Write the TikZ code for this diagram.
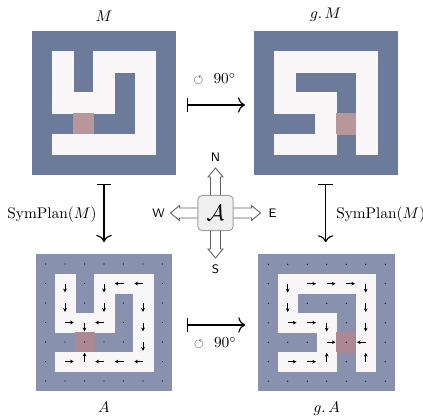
\documentclass[tikz,border=0pt]{standalone}
\usepackage{amsmath,amssymb}
\usepackage{tikz}
\usetikzlibrary{arrows.meta,positioning}

\definecolor{wallM}{HTML}{6D7B9B}
\definecolor{wallA}{HTML}{8891AD}
\definecolor{goalM}{HTML}{B79799}
\definecolor{goalA}{HTML}{AB8893}
\definecolor{mazefree}{HTML}{F8F6F6}

\tikzset{
  gridbox/.style  = {rectangle, inner sep=0pt, outer sep=0pt},
  maplbl/.style   = {inner sep=0pt},
  maparrow/.style = {{Bar[width=9.5pt]}-{Computer Modern Rightarrow[length=4.5pt,width=10pt]},
                     line width=0.75pt},
  policy/.style   = {-{Stealth[length=2.4pt,width=2.4pt]}, line width=0.4pt},
  agent/.style    = {draw=gray!75, fill=gray!12, rounded corners=3pt,
                     minimum size=23pt, line width=0.6pt},
  move/.style     = {draw=gray!75!black, fill=white, line width=0.55pt},
  dirlbl/.style   = {font=\footnotesize\sffamily, inner sep=0pt}
}

% w = wall, g = goal, d/u/l/r = policy direction
\def\planA{{w,w,w,w,w,w,w},{w,d,w,d,l,l,w},{w,d,w,d,w,d,w},{w,r,d,l,w,d,w},%
{w,w,g,w,w,d,w},{w,r,u,l,l,l,w},{w,w,w,w,w,w,w}}
\def\planGA{{w,w,w,w,w,w,w},{w,d,r,r,r,d,w},{w,d,w,w,w,d,w},{w,r,r,d,w,d,w},%
{w,w,w,r,g,l,w},{w,r,r,u,w,u,w},{w,w,w,w,w,w,w}}

% #1 plan, #2 cell size, #3 goal colour, #4 draw policy (1/0)
\newcommand\mazegrid[4]{%
  \foreach \row [count=\rowi from 0] in #1 {
    \foreach \cel [count=\coli from 0] in \row {
      \if w\cel\else
        \if g\cel \def\cellcol{#3}\else \def\cellcol{mazefree}\fi
        \filldraw[fill=\cellcol, draw=\cellcol, line width=0.3pt]
          (\coli*#2,\rowi*#2) rectangle ++(#2,#2);
      \fi
    }
  }
  \ifnum#4=1
  \foreach \row [count=\rowi from 0] in #1 {
    \foreach \cel [count=\coli from 0] in \row {
      \coordinate (ctr) at ({(\coli+0.5)*#2},{(\rowi+0.5)*#2});
      \if w\cel \fill (ctr) circle (0.6);\fi
      \if g\cel \fill (ctr) circle (0.6);\fi
      \if d\cel \draw[policy] (ctr) -- ++(0,0.45*#2);\fi
      \if u\cel \draw[policy] (ctr) -- ++(0,-0.45*#2);\fi
      \if l\cel \draw[policy] (ctr) -- ++(-0.45*#2,0);\fi
      \if r\cel \draw[policy] (ctr) -- ++(0.45*#2,0);\fi
    }
  }
  \fi
}

\begin{document}
\begin{tikzpicture}[x=0.65pt, y=-0.65pt]
\useasboundingbox (0,0) rectangle (423,415);

% ---------- the four grids ----------
\node[gridbox, fill=wallM, minimum size=93.6pt]  (M)  at (104,103)     {};
\node[gridbox, fill=wallM, minimum size=93.6pt]  (gM) at (325.7,103)   {};
\node[gridbox, fill=wallA, minimum size=88.7pt]  (A)  at (104,322.5)   {};
\node[gridbox, fill=wallA, minimum size=88.7pt]  (gA) at (326.7,322.7) {};

\begin{scope}[shift={(M.north west)}]  \mazegrid{\planA}{20.57}{goalM}{0}  \end{scope}
\begin{scope}[shift={(gM.north west)}] \mazegrid{\planGA}{20.57}{goalM}{0} \end{scope}
\begin{scope}[shift={(A.north west)}]  \mazegrid{\planA}{19.5}{goalA}{1}   \end{scope}
\begin{scope}[shift={(gA.north west)}] \mazegrid{\planGA}{19.5}{goalA}{1}  \end{scope}

\node[maplbl, above=6pt of M]  (lM)  {$M$};
\node[maplbl, above=6pt of gM] (lgM) {$g.\,M$};
\node[maplbl, below=7pt of A]  (lA)  {$A$};
\node[maplbl, below=7pt of gA] (lgA) {$g.\,A$};

% ---------- maps between them ----------
\draw[maparrow, shorten <=7.2pt, shorten >=5.7pt]
  ([yshift=-1.3pt]M.east) -- ([yshift=-1.3pt]M.east -| gM.west)
  node[midway, yshift=16.9pt] (rotT) {{\footnotesize$\circlearrowleft$}\ \ $90^\circ$};
\draw[maparrow, shorten <=9.5pt, shorten >=8.6pt]
  ([yshift=-1.6pt]A.east) -- ([yshift=-1.6pt]A.east -| gA.west)
  node[midway, yshift=-11.7pt] (rotB) {{\footnotesize$\circlearrowleft$}\ \ $90^\circ$};
\draw[maparrow, shorten <=5.9pt, shorten >=8pt]
  (M.south) -- (A.north)
  node[midway, left=4.5pt, inner sep=0pt] (planL) {$\mathrm{SymPlan}(M)$};
\draw[maparrow, shorten <=5.9pt, shorten >=8pt]
  (gM.south) -- (gM.south |- gA.north)
  node[midway, right=6.5pt, inner sep=0pt] (planR) {$\mathrm{SymPlan}(M)$};

% ---------- agent and its moves ----------
\coordinate (agc) at (215.5,213);
\foreach \ang in {0,90,180,270}
  \filldraw[move, shift={(agc)}, rotate=\ang]
    (15,-5) -- (36,-5) -- (36,-7.5) -- (45,0) -- (36,7.5) -- (36,5) -- (15,5) -- cycle;
\node[agent] (ag) at (agc) {\Large$\mathcal{A}$};

\node[dirlbl, above=21.5pt of ag] (dN) {N};
\node[dirlbl, below=21.5pt of ag] (dS) {S};
\node[dirlbl, right=22.5pt of ag] (dE) {E};
\node[dirlbl, left=21pt of ag]   (dW) {W};

\end{tikzpicture}
\end{document}
